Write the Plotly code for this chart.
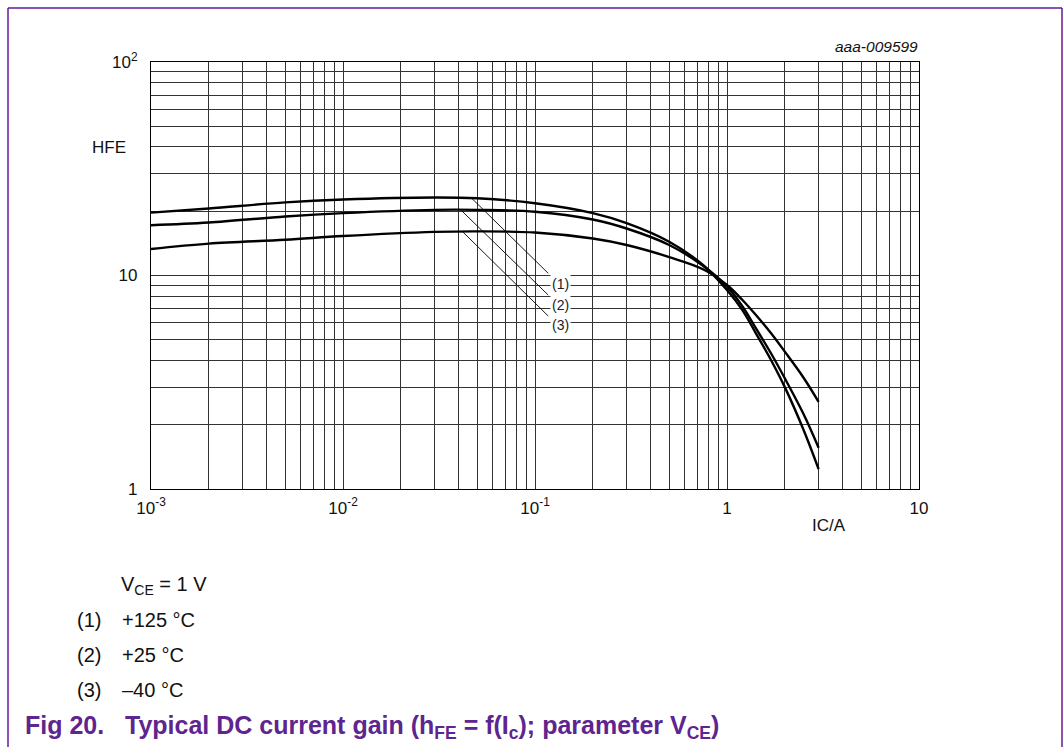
import math
import plotly.graph_objects as go

# ---- data ----
ic = [0.001, 0.002, 0.005, 0.01, 0.03, 0.05, 0.1, 0.2, 0.3, 0.5, 0.75, 1.0, 1.2, 1.4, 1.7, 2.0, 2.5, 3.0]
hfe_125 = [19.7, 20.6, 22.0, 22.7, 23.2, 23.0, 21.8, 19.6, 17.6, 14.4, 11.2, 8.55, 6.9, 5.45, 4.0, 3.0, 1.9, 1.24]
hfe_25 = [17.2, 17.7, 18.9, 19.6, 20.3, 20.3, 19.9, 18.3, 16.6, 13.9, 11.1, 8.87, 7.2, 5.75, 4.3, 3.3, 2.25, 1.56]
hfe_m40 = [13.3, 14.1, 14.7, 15.3, 16.0, 16.1, 15.9, 14.9, 13.9, 12.2, 10.7, 9.03, 7.7, 6.6, 5.35, 4.4, 3.33, 2.56]

curve_labels = ["(1)", "(2)", "(3)"]
leader_start_x = [0.0468, 0.0415, 0.042]
leader_start_y = [23.0, 20.1, 16.03]
leader_end_x = [0.1172, 0.1172, 0.1172]
leader_end_y = [10.24, 8.10, 6.46]
label_x = [0.136, 0.136, 0.136]
label_y = [9.10, 7.28, 5.86]

x_decades = [0.001, 0.01, 0.1, 1, 10]
x_decade_text = ["10<sup>-3</sup>", "10<sup>-2</sup>", "10<sup>-1</sup>", "1", "10"]
y_decades = [1, 10, 100]
y_decade_text = ["1", "10", "10<sup>2</sup>"]

legend_nums = ["(1)", "(2)", "(3)"]
legend_temps = ["+125 °C", "+25 °C", "\u201340 °C"]


# ---- build gridline tick sets (1..9 per decade) ----
def grid_vals(decades):
    vals = []
    for d in decades[:-1]:
        for m in range(1, 10):
            vals.append(d * m)
    vals.append(decades[-1])
    return vals


def grid_text(vals, decades, dtext):
    out = []
    for v in vals:
        t = ""
        for d, s in zip(decades, dtext):
            if abs(v - d) < 1e-9 * max(1, d):
                t = s
        out.append(t)
    return out


xv = grid_vals(x_decades)
xt = grid_text(xv, x_decades, x_decade_text)
yv = grid_vals(y_decades)
yt = grid_text(yv, y_decades, y_decade_text)

FONT = "Liberation Sans, Arial, sans-serif"
PURPLE = "#5E2590"
TXT = "#111"

fig = go.Figure()
for ys in (hfe_125, hfe_25, hfe_m40):
    fig.add_trace(go.Scatter(x=ic, y=ys, mode="lines",
                             line=dict(color="black", width=2.4, shape="spline", smoothing=1.0),
                             showlegend=False, hoverinfo="skip"))

for i in range(3):
    fig.add_trace(go.Scatter(x=[leader_start_x[i], leader_end_x[i]],
                             y=[leader_start_y[i], leader_end_y[i]],
                             mode="lines", line=dict(color="black", width=0.9),
                             showlegend=False, hoverinfo="skip"))

annotations = []
for i in range(3):
    annotations.append(dict(x=math.log10(label_x[i]), y=math.log10(label_y[i]),
                            xref="x", yref="y", text=curve_labels[i], showarrow=False,
                            xanchor="center", yanchor="middle", bgcolor="white",
                            font=dict(family=FONT, size=14, color="#222"), borderpad=1))

W, H = 1064, 747
L, R, T, B = 151, 919, 62, 489


def px(xp):
    return (xp - L) / (R - L)


def py(yp):
    return (B - yp) / (B - T)


def txt(text, x, y, size=16, anchor="left", color=TXT, bold=False):
    if bold:
        text = "<b>" + text + "</b>"
    annotations.append(dict(x=px(x), y=py(y), xref="paper", yref="paper", text=text,
                            showarrow=False, xanchor=anchor, yanchor="middle",
                            font=dict(family=FONT, size=size, color=color)))


txt("HFE", 128, 147, size=17, anchor="right")
txt("IC/A", 829, 525, size=17, anchor="center")
txt("<i>aaa-009599</i>", 920, 47, size=15.5, anchor="right")
txt("V<sub>CE</sub> = 1 V", 119, 585, size=20)
ys_leg = [620, 655, 690]
for i in range(3):
    txt(legend_nums[i], 75, ys_leg[i], size=20)
    txt(legend_temps[i], 120, ys_leg[i], size=20)
txt("Fig 20.\u00a0\u00a0\u00a0Typical DC current gain (h<sub>FE</sub> = f(I<sub>c</sub>); parameter V<sub>CE</sub>)",
    23, 727, size=25, color=PURPLE, bold=True)

BORDER = "#65189A"
shapes = [dict(type="line", xref="paper", yref="paper", x0=px(8), x1=px(8), y0=py(8), y1=py(760),
               line=dict(color=BORDER, width=1.5)),
          dict(type="line", xref="paper", yref="paper", x0=px(8), x1=px(1062), y0=py(8), y1=py(8),
               line=dict(color=BORDER, width=1.5)),
          dict(type="line", xref="paper", yref="paper", x0=px(1062), x1=px(1062), y0=py(8), y1=py(760),
               line=dict(color=BORDER, width=1.5))]

fig.update_layout(
    width=W, height=H,
    margin=dict(l=L, r=W - R, t=T, b=H - B, pad=0),
    paper_bgcolor="white", plot_bgcolor="white",
    annotations=annotations, shapes=shapes,
    font=dict(family=FONT, size=16, color=TXT),
)
fig.update_xaxes(type="log", range=[-3, 1], tickmode="array", tickvals=xv, ticktext=xt,
                 showgrid=True, gridcolor="#333", gridwidth=1, zeroline=False,
                 showline=True, linecolor="black", linewidth=1.2, mirror=True,
                 ticks="", tickfont=dict(family=FONT, size=17, color=TXT),
                 ticklabelstandoff=3)
fig.update_yaxes(type="log", range=[0, 2], tickmode="array", tickvals=yv, ticktext=yt,
                 showgrid=True, gridcolor="#333", gridwidth=1, zeroline=False,
                 showline=True, linecolor="black", linewidth=1.2, mirror=True,
                 ticks="", tickfont=dict(family=FONT, size=17, color=TXT),
                 ticklabelstandoff=9)

fig.write_html("out.html")
